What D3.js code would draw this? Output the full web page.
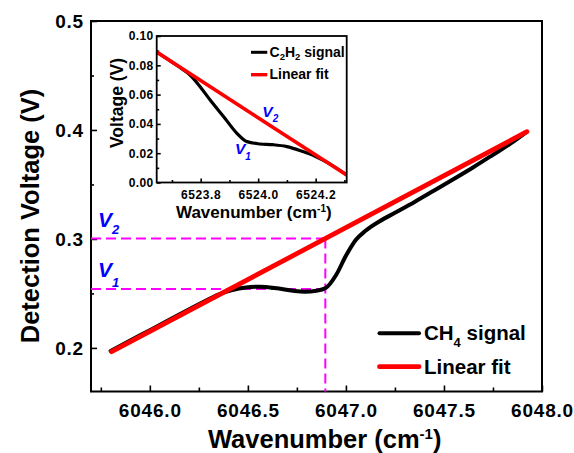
<!DOCTYPE html>
<html>
<head>
<meta charset="utf-8">
<script src="https://cdn.jsdelivr.net/npm/d3@7"></script>
<style>
  html, body { margin: 0; padding: 0; background: #fff; }
  svg { display: block; font-family: "Liberation Sans", Arial, Helvetica, sans-serif; font-weight: bold; }
</style>
</head>
<body>
<svg id="chart" width="574" height="453"></svg>
<script>
// ---- CH4 line near 6046.9 cm-1 (main panel) ----
const ch4Wavenumber = [6045.80, 6045.95, 6046.10, 6046.25, 6046.35, 6046.42, 6046.49, 6046.56,
                       6046.65, 6046.73, 6046.79, 6046.85, 6046.895, 6046.95, 6047.00, 6047.05,
                       6047.10, 6047.17, 6047.25, 6047.35, 6047.45, 6047.55, 6047.65, 6047.75,
                       6047.85, 6047.92];
const ch4Voltage = [0.1972, 0.2115, 0.2258, 0.2400, 0.2490, 0.2530, 0.2554, 0.2562,
                    0.2547, 0.2525, 0.2516, 0.2525, 0.2547, 0.2669, 0.2845, 0.2990,
                    0.3075, 0.3160, 0.3240, 0.3340, 0.3445, 0.3550, 0.3658, 0.3772,
                    0.3888, 0.3980];
const ch4FitWavenumber = [6045.805, 6047.923];
const ch4FitVoltage = [0.1965, 0.3984];

// ---- C2H2 line near 6524.0 cm-1 (inset) ----
const c2h2Wavenumber = [6523.647, 6523.70, 6523.74, 6523.763, 6523.798, 6523.833, 6523.88, 6523.926,
                        6523.961, 6524.007, 6524.05, 6524.10, 6524.15, 6524.20, 6524.24, 6524.308];
const c2h2Voltage = [0.0890, 0.0822, 0.0768, 0.0734, 0.0654, 0.0563, 0.0449, 0.0336,
                     0.0279, 0.0263, 0.0258, 0.0245, 0.0215, 0.0178, 0.0137, 0.0051];
const c2h2FitWavenumber = [6523.647, 6524.308];
const c2h2FitVoltage = [0.0890, 0.0051];

// ---- readings at line centre ----
const markerWavenumber = 6046.895;
const markerVoltage = [0.254, 0.3004];   // V1 (signal), V2 (baseline fit)
const markerNames = ["1", "2"];

// ---- ticks ----
const mainXTicks = [6046.0, 6046.5, 6047.0, 6047.5, 6048.0];
const mainXMinor = [6045.75, 6046.25, 6046.75, 6047.25, 6047.75];
const mainYTicks = [0.2, 0.3, 0.4, 0.5];
const mainYMinor = [0.25, 0.35, 0.45];
const insetXTicks = [6523.8, 6524.0, 6524.2];
const insetXMinor = [6523.7, 6523.9, 6524.1, 6524.3];
const insetYTicks = [0.00, 0.02, 0.04, 0.06, 0.08, 0.10];
const insetYMinor = [0.01, 0.03, 0.05, 0.07, 0.09];

const FONT = "'Liberation Sans', Arial, Helvetica, sans-serif";
const svg = d3.select("#chart");
const pts = (xs, ys) => xs.map((x, i) => [x, ys[i]]);

// axis groups: drop the domain path, bold labels, black inward ticks
function styleAxis(g, size, spacing) {
  g.attr("font-family", FONT).attr("font-size", size).attr("font-weight", "bold");
  g.select(".domain").remove();
  g.selectAll("line").attr("stroke", "#000").attr("stroke-width", 1.6);
  g.selectAll("text")
    .attr("fill", "#000")
    .attr("font-family", FONT)
    .attr("font-size", size)
    .attr("font-weight", "bold")
    .attr("letter-spacing", spacing);
}

// ================= main panel =================
const M = { left: 91, right: 542, top: 21, bottom: 391.5 };
const x = d3.scaleLinear().domain([6045.7, 6048.0]).range([M.left, M.right]);
const y = d3.scaleLinear().domain([0.16, 0.5]).range([M.bottom, M.top]);

const tickSize = 19;
svg.append("g").attr("transform", `translate(0,${M.bottom})`)
  .call(d3.axisBottom(x).tickValues(mainXTicks).tickFormat(d3.format(".1f"))
        .tickSizeInner(-6).tickSizeOuter(0).tickPadding(12))
  .call(g => styleAxis(g, tickSize, 0.8));
svg.append("g").attr("transform", `translate(0,${M.bottom})`)
  .call(d3.axisBottom(x).tickValues(mainXMinor).tickFormat("")
        .tickSizeInner(-4).tickSizeOuter(0))
  .call(g => styleAxis(g, tickSize, 0));
svg.append("g").attr("transform", `translate(${M.left},0)`)
  .call(d3.axisLeft(y).tickValues(mainYTicks).tickFormat(d3.format(".1f"))
        .tickSizeInner(-6).tickSizeOuter(0).tickPadding(7))
  .call(g => styleAxis(g, tickSize, 0.8));
svg.append("g").attr("transform", `translate(${M.left},0)`)
  .call(d3.axisLeft(y).tickValues(mainYMinor).tickFormat("")
        .tickSizeInner(-3).tickSizeOuter(0))
  .call(g => styleAxis(g, tickSize, 0));

svg.append("rect")
  .attr("x", M.left).attr("y", M.top)
  .attr("width", M.right - M.left).attr("height", M.bottom - M.top)
  .attr("fill", "none").attr("stroke", "#000").attr("stroke-width", 2);

// dashed guides for V1 / V2
const guides = svg.append("g").attr("stroke", "#ff00ff").attr("stroke-width", 2)
  .attr("stroke-dasharray", "10,5").attr("fill", "none");
markerVoltage.forEach(v => {
  guides.append("line")
    .attr("x1", x(6045.7)).attr("x2", x(markerWavenumber))
    .attr("y1", y(v)).attr("y2", y(v));
});
guides.append("line")
  .attr("x1", x(markerWavenumber)).attr("x2", x(markerWavenumber))
  .attr("y1", y(d3.max(markerVoltage))).attr("y2", y(0.16));

svg.append("path").datum(pts(ch4Wavenumber, ch4Voltage))
  .attr("d", d3.line().x(d => x(d[0])).y(d => y(d[1])).curve(d3.curveMonotoneX))
  .attr("fill", "none").attr("stroke", "#000").attr("stroke-width", 4)
  .attr("stroke-linecap", "round");
svg.append("path").datum(pts(ch4FitWavenumber, ch4FitVoltage))
  .attr("d", d3.line().x(d => x(d[0])).y(d => y(d[1])))
  .attr("fill", "none").attr("stroke", "#ff0000").attr("stroke-width", 4.8)
  .attr("stroke-linecap", "round");

// V labels
const vSub = [10, 7];
const vBase = [277, 226.7];
markerNames.forEach((n, i) => {
  const t = svg.append("text").attr("x", 98).attr("y", vBase[i])
    .attr("fill", "#0000ff").attr("font-size", 21).attr("font-weight", "bold")
    .attr("font-style", "italic").attr("font-family", FONT);
  t.append("tspan").text("V");
  t.append("tspan").attr("dy", vSub[i]).attr("font-size", 13).text(n);
});

// axis titles
const xt = svg.append("text").attr("x", 208).attr("y", 448)
  .attr("font-size", 25.5).attr("font-weight", "bold").attr("font-family", FONT).attr("fill", "#000");
xt.append("tspan").text("Wavenumber (cm");
xt.append("tspan").attr("dy", -9).attr("font-size", 15).text("-1");
xt.append("tspan").attr("dy", 9).text(")");

svg.append("text")
  .attr("transform", "translate(39,216) rotate(-90)")
  .attr("text-anchor", "middle").attr("font-size", 25.5).attr("font-weight", "bold")
  .attr("font-family", FONT).attr("fill", "#000")
  .text("Detection Voltage (V)");

// legend
const legMain = [
  { color: "#000", w: 4, y: 333.3, base: 340, parts: [["CH", 0], ["4", 1], [" signal", -1]] },
  { color: "#ff0000", w: 4.8, y: 366.7, base: 374, parts: [["Linear fit", 0]] }
];
legMain.forEach(L => {
  svg.append("line").attr("x1", 379.5).attr("x2", 419).attr("y1", L.y).attr("y2", L.y)
    .attr("stroke", L.color).attr("stroke-width", L.w).attr("stroke-linecap", "round");
  const t = svg.append("text").attr("x", 424).attr("y", L.base)
    .attr("font-size", 20.5).attr("font-weight", "bold").attr("font-family", FONT).attr("fill", "#000");
  L.parts.forEach(([s, k]) => {
    const sp = t.append("tspan").text(s);
    if (k === 1) sp.attr("dy", 7).attr("font-size", 13);
    if (k === -1) sp.attr("dy", -7);
  });
});

// ================= inset =================
const I = { left: 156.7, right: 346.7, top: 36, bottom: 182.5 };
const xi = d3.scaleLinear().domain([6523.647, 6524.308]).range([I.left, I.right]);
const yi = d3.scaleLinear().domain([0, 0.1]).range([I.bottom, I.top]);

svg.append("rect").attr("x", I.left).attr("y", I.top)
  .attr("width", I.right - I.left).attr("height", I.bottom - I.top).attr("fill", "#fff");

const insetTick = 12;
svg.append("g").attr("transform", `translate(0,${I.bottom})`)
  .call(d3.axisBottom(xi).tickValues(insetXTicks).tickFormat(d3.format(".1f"))
        .tickSizeInner(-4).tickSizeOuter(0).tickPadding(8))
  .call(g => styleAxis(g, insetTick, 0.6));
svg.append("g").attr("transform", `translate(0,${I.bottom})`)
  .call(d3.axisBottom(xi).tickValues(insetXMinor).tickFormat("")
        .tickSizeInner(-2.5).tickSizeOuter(0))
  .call(g => styleAxis(g, insetTick, 0));
svg.append("g").attr("transform", `translate(${I.left},0)`)
  .call(d3.axisLeft(yi).tickValues(insetYTicks).tickFormat(d3.format(".2f"))
        .tickSizeInner(-4).tickSizeOuter(0).tickPadding(3))
  .call(g => styleAxis(g, insetTick, 0.4));
svg.append("g").attr("transform", `translate(${I.left},0)`)
  .call(d3.axisLeft(yi).tickValues(insetYMinor).tickFormat("")
        .tickSizeInner(-2.5).tickSizeOuter(0))
  .call(g => styleAxis(g, insetTick, 0));

svg.append("clipPath").attr("id", "insetClip").append("rect")
  .attr("x", I.left).attr("y", I.top).attr("width", I.right - I.left).attr("height", I.bottom - I.top);
const inner = svg.append("g").attr("clip-path", "url(#insetClip)");
inner.append("path").datum(pts(c2h2Wavenumber, c2h2Voltage))
  .attr("d", d3.line().x(d => xi(d[0])).y(d => yi(d[1])).curve(d3.curveMonotoneX))
  .attr("fill", "none").attr("stroke", "#000").attr("stroke-width", 3.2);
inner.append("path").datum(pts(c2h2FitWavenumber, c2h2FitVoltage))
  .attr("d", d3.line().x(d => xi(d[0])).y(d => yi(d[1])))
  .attr("fill", "none").attr("stroke", "#ff0000").attr("stroke-width", 3.6);

svg.append("rect").attr("x", I.left).attr("y", I.top)
  .attr("width", I.right - I.left).attr("height", I.bottom - I.top)
  .attr("fill", "none").attr("stroke", "#000").attr("stroke-width", 1.8);

// inset V labels
const viPos = [{ x: 235, base: 154, sub: 5.5 }, { x: 262.3, base: 116.5, sub: 5 }];
markerNames.forEach((n, i) => {
  const t = svg.append("text").attr("x", viPos[i].x).attr("y", viPos[i].base)
    .attr("fill", "#0000ff").attr("font-size", 15.5).attr("font-weight", "bold")
    .attr("font-style", "italic").attr("font-family", FONT);
  t.append("tspan").text("V");
  t.append("tspan").attr("dy", viPos[i].sub).attr("font-size", 10).text(n);
});

// inset legend
const legInset = [
  { color: "#000", w: 3, y: 52.3, base: 56.5, parts: [["C", 0], ["2", 1], ["H", -1], ["2", 1], [" signal", -1]] },
  { color: "#ff0000", w: 3.4, y: 74.7, base: 79, parts: [["Linear fit", 0]] }
];
legInset.forEach(L => {
  svg.append("line").attr("x1", 251).attr("x2", 267.3).attr("y1", L.y).attr("y2", L.y)
    .attr("stroke", L.color).attr("stroke-width", L.w);
  const t = svg.append("text").attr("x", 269.5).attr("y", L.base)
    .attr("font-size", 14).attr("font-weight", "bold").attr("font-family", FONT).attr("fill", "#000");
  L.parts.forEach(([s, k]) => {
    const sp = t.append("tspan").text(s);
    if (k === 1) sp.attr("dy", 3.5).attr("font-size", 9.5);
    if (k === -1) sp.attr("dy", -3.5);
  });
});

// inset axis titles
const xit = svg.append("text").attr("x", 176).attr("y", 218)
  .attr("font-size", 17).attr("font-weight", "bold").attr("font-family", FONT).attr("fill", "#000");
xit.append("tspan").text("Wavenumber (cm");
xit.append("tspan").attr("dy", -6).attr("font-size", 10).text("-1");
xit.append("tspan").attr("dy", 6).text(")");

svg.append("text")
  .attr("transform", "translate(123,103) rotate(-90)")
  .attr("text-anchor", "middle").attr("font-size", 17.5).attr("font-weight", "bold")
  .attr("font-family", FONT).attr("fill", "#000")
  .text("Voltage (V)");
</script>
</body>
</html>
